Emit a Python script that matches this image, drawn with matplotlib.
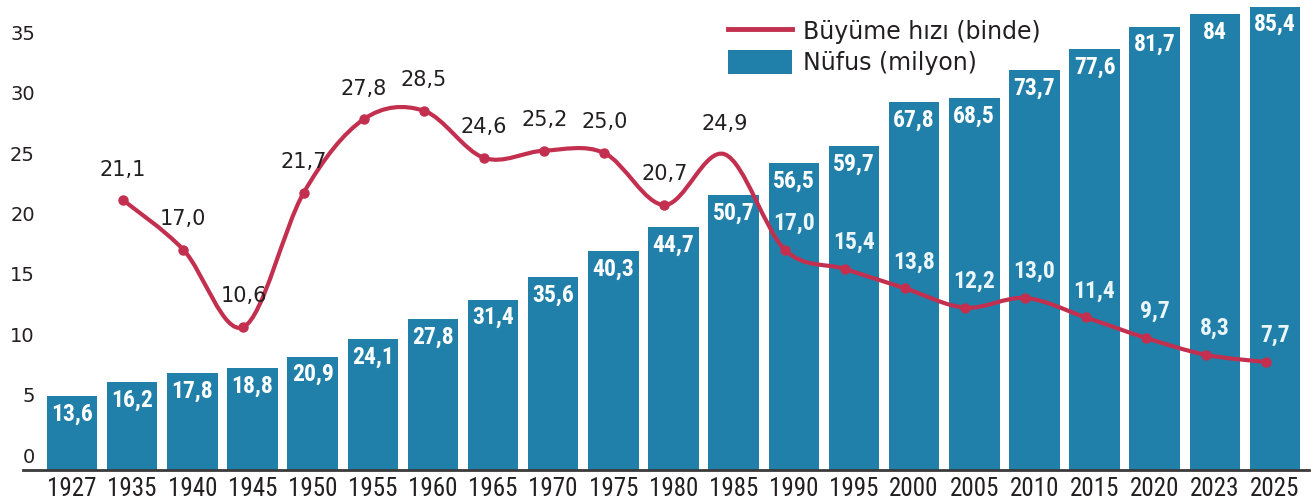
import numpy as np
import matplotlib
matplotlib.use('Agg')
import matplotlib.pyplot as plt
from matplotlib import font_manager
from matplotlib.path import Path
from matplotlib.patches import PathPatch, Patch
from matplotlib.lines import Line2D

years = ['1927', '1935', '1940', '1945', '1950', '1955', '1960', '1965', '1970', '1975',
         '1980', '1985', '1990', '1995', '2000', '2005', '2010', '2015', '2020', '2023', '2025']
population = [13.6, 16.2, 17.8, 18.8, 20.9, 24.1, 27.8, 31.4, 35.6, 40.3,
              44.7, 50.7, 56.5, 59.7, 67.8, 68.5, 73.7, 77.6, 81.7, 84, 85.4]
# growth rate (per thousand), no value for 1927
growth = [None, 21.1, 17.0, 10.6, 21.7, 27.8, 28.5, 24.6, 25.2, 25.0,
          20.7, 24.9, 17.0, 15.4, 13.8, 12.2, 13.0, 11.4, 9.7, 8.3, 7.7]

bar_color = '#2180a9'
line_color = '#c3304f'
text_color = '#231f20'

# pick a narrow face if one is installed
installed = {f.name for f in font_manager.fontManager.ttflist}
narrow_name = next((n for n in ['Roboto Condensed', 'Liberation Sans Narrow', 'DejaVu Sans Condensed',
                                'Open Sans Condensed', 'Noto Sans Condensed'] if n in installed), None)
if narrow_name:
    narrow, nsize = [narrow_name, 'DejaVu Sans'], 17
else:
    narrow, nsize = ['Liberation Sans', 'DejaVu Sans'], 14.5

W, H = 1315, 504
fig = plt.figure(figsize=(W / 100, H / 100), dpi=100)
ax = fig.add_axes([23 / W, 34 / H, (1309 - 23) / W, 470 / H])
ax2 = ax.twinx()

x = np.arange(len(years))
ax.bar(x, population, width=0.84, color=bar_color, zorder=2)
ax.set_xlim(-0.815, len(years) - 1 + 0.565)
ax.set_ylim(0, 86.6)
ax.set_yticks([])
ax.set_xticks(x)
ax.set_xticklabels(years, fontsize=nsize + 1, family=narrow, color=text_color)
ax.tick_params(axis='x', length=0, pad=5)
for s in ['top', 'left', 'right']:
    ax.spines[s].set_visible(False)
ax.spines['bottom'].set_color('#3a3a3a')
ax.spines['bottom'].set_linewidth(2)

for xi, v in zip(x, population):
    ax.annotate(f'{v:g}'.replace('.', ','), (xi, v), xytext=(0, -13), textcoords='offset points',
                ha='center', va='center', fontsize=nsize, fontweight='bold', family=narrow,
                color='white', zorder=3)

# growth line (smooth curve through the points)
shift = -0.15
gi = [i for i, g in enumerate(growth) if g is not None]
gx = np.array([i + shift for i in gi])
gy = np.array([growth[i] for i in gi])
px = np.concatenate([[gx[0]], gx, [gx[-1]]])
py = np.concatenate([[gy[0]], gy, [gy[-1]]])
verts = [(gx[0], gy[0])]
codes = [Path.MOVETO]
for k in range(1, len(px) - 2):
    c1 = (px[k] + (px[k + 1] - px[k - 1]) / 6, py[k] + (py[k + 1] - py[k - 1]) / 6)
    c2 = (px[k + 1] - (px[k + 2] - px[k]) / 6, py[k + 1] - (py[k + 2] - py[k]) / 6)
    verts += [c1, c2, (px[k + 1], py[k + 1])]
    codes += [Path.CURVE4] * 3
ax2.add_patch(PathPatch(Path(verts, codes), fill=False, edgecolor=line_color, lw=3,
                        capstyle='round', joinstyle='round', zorder=4))
marks = [k for k, i in enumerate(gi) if years[i] != '1985']
ax2.plot(gx[marks], gy[marks], 'o', color=line_color, ms=6.5, zorder=5)

for i in gi:
    g = growth[i]
    lab = f'{g:.1f}'.replace('.', ',')
    if i >= 12:
        ax2.annotate(lab, (i, g), xytext=(0, 19), textcoords='offset points', ha='center',
                     va='center', fontsize=nsize, fontweight='bold', family=narrow,
                     color='#eaf6fa', zorder=6)
    else:
        ax2.annotate(lab, (i + shift, g), xytext=(0, 22), textcoords='offset points',
                     ha='center', va='center', fontsize=15, color=text_color, zorder=6)

ax2.set_ylim(-1.24, 37.67)
ax2.set_yticks(range(0, 36, 5))
ax2.yaxis.set_ticks_position('left')
ax2.tick_params(axis='y', length=0, pad=-8.6, labelsize=14, labelcolor=text_color)
for s in ax2.spines.values():
    s.set_visible(False)

handles = [Line2D([0], [0], color=line_color, lw=3.5),
           Patch(facecolor=bar_color, edgecolor='none')]
fig.legend(handles, ['Büyüme hızı (binde)', 'Nüfus (milyon)'], loc='upper left',
           bbox_to_anchor=(728 / W, 1 - 19 / H), frameon=False, fontsize=17,
           handlelength=2.71, handleheight=1.19, handletextpad=0.47, labelspacing=0.25,
           borderpad=0, borderaxespad=0, labelcolor=text_color)

fig.savefig('out.png', dpi=100)
